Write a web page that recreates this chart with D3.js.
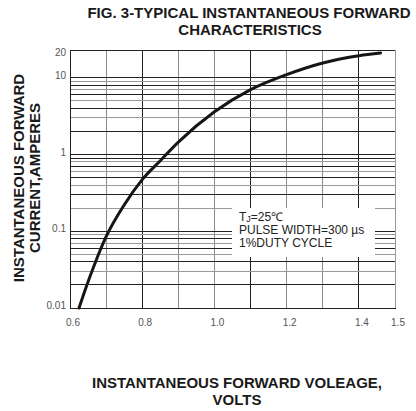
<!DOCTYPE html>
<html>
<head>
<meta charset="utf-8">
<script src="https://cdn.jsdelivr.net/npm/d3@7"></script>
<style>
  body { margin: 0; background: #fff; }
  text { font-family: "Liberation Sans", Arial, sans-serif; }
  .chart-title, .axis-title { font-weight: bold; fill: #1a1a1a; }
  .tick-label { font-size: 10px; fill: #555; }
  .note { font-size: 12px; fill: #222; }
</style>
</head>
<body>
<script>
// Data
const voltage = [0.625, 0.65, 0.665, 0.7, 0.75, 0.8, 0.85, 0.9, 1.0, 1.1, 1.2, 1.3, 1.4, 1.46];
const current = [0.01, 0.022, 0.034, 0.085, 0.22, 0.47, 0.83, 1.45, 3.6, 7.0, 11.0, 15.6, 19.4, 21];

const xTicks = [0.6, 0.8, 1.0, 1.2, 1.4, 1.5];
const xGrid = [0.6, 0.7, 0.8, 0.9, 1.0, 1.1, 1.2, 1.3, 1.4, 1.5];
const yTicks = [0.01, 0.1, 1, 10, 20];
const yTickLabels = ["0.01", "0.1", "1", "10", "20"];
const minorSteps = [2, 3, 4, 5, 6, 7, 8, 9];
const decades = [0.01, 0.1, 1];

const noteLines = ["PULSE WIDTH=300 \u00b5s", "1%DUTY CYCLE"];

// Setup: dimensions
const svgWidth = 416, svgHeight = 411;
const plot = { left: 70, right: 395, top: 50, bottom: 308 };

const svg = d3.select("body").append("svg")
  .attr("width", svgWidth)
  .attr("height", svgHeight);

// Scales
const xScale = d3.scaleLinear().domain([0.6, 1.5]).range([plot.left, plot.right]);
const yScale = d3.scaleLog().domain([0.01, 23]).range([plot.bottom, plot.top]);

// Grid lines
const grid = svg.append("g").attr("shape-rendering", "crispEdges");

grid.selectAll(".vgrid")
  .data(xGrid.slice(1, -1))
  .join("line")
  .attr("x1", d => xScale(d)).attr("x2", d => xScale(d))
  .attr("y1", plot.top).attr("y2", plot.bottom)
  .attr("stroke", (d, i) => i % 3 === 1 ? "#222" : "#8a8a8a")
  .attr("stroke-width", 1);

const hLines = [];
decades.forEach(base => {
  hLines.push({ v: base, major: true });
  minorSteps.forEach(m => hLines.push({ v: base * m, major: false }));
});
hLines.push({ v: 10, major: true });

grid.selectAll(".hgrid")
  .data(hLines.filter(d => d.v > 0.01))
  .join("line")
  .attr("x1", plot.left).attr("x2", plot.right)
  .attr("y1", d => yScale(d.v)).attr("y2", d => yScale(d.v))
  .attr("stroke", (d, i) => d.major ? "#222" : (i % 2 ? "#999" : "#222"))
  .attr("stroke-width", 1);

// Frame
grid.append("rect")
  .attr("x", plot.left).attr("y", plot.top)
  .attr("width", plot.right - plot.left)
  .attr("height", plot.bottom - plot.top)
  .attr("fill", "none")
  .attr("stroke", "#222");
grid.append("line")
  .attr("x1", plot.right).attr("x2", plot.right)
  .attr("y1", plot.top).attr("y2", plot.bottom)
  .attr("stroke", "#999");

// Note box (white patch over the grid)
const box = { x: 232, y: 208, w: 143, h: 49 };
svg.append("rect")
  .attr("x", box.x).attr("y", box.y)
  .attr("width", box.w).attr("height", box.h)
  .attr("fill", "#fff");

const note = svg.append("text").attr("class", "note")
  .attr("x", box.x + 7).attr("y", box.y + 13);
note.append("tspan").text("T");
note.append("tspan").attr("font-size", "9px").attr("dy", 1).text("J");
note.append("tspan").attr("dy", -1).text("=25\u2103");

svg.selectAll(".note-line")
  .data(noteLines)
  .join("text")
  .attr("class", "note")
  .attr("x", box.x + 7)
  .attr("y", (d, i) => box.y + 26 + i * 13)
  .text(d => d);

// Curve
const line = d3.line()
  .x(d => xScale(d[0]))
  .y(d => yScale(d[1]))
  .curve(d3.curveMonotoneX);

svg.append("path")
  .datum(voltage.map((v, i) => [v, current[i]]))
  .attr("fill", "none")
  .attr("stroke", "#161616")
  .attr("stroke-width", 3)
  .attr("stroke-linecap", "round")
  .attr("d", line);

// Tick labels
svg.selectAll(".xlab")
  .data(xTicks)
  .join("text")
  .attr("class", "tick-label")
  .attr("x", d => xScale(d) + 3)
  .attr("y", plot.bottom + 18)
  .attr("text-anchor", "middle")
  .text(d3.format(".1f"));

svg.selectAll(".ylab")
  .data(yTicks)
  .join("text")
  .attr("class", "tick-label")
  .attr("x", plot.left - 4)
  .attr("y", d => yScale(d) + 1)
  .attr("text-anchor", "end")
  .text((d, i) => yTickLabels[i]);

// Titles
svg.append("text").attr("class", "chart-title")
  .attr("x", 249).attr("y", 18)
  .attr("text-anchor", "middle").attr("font-size", "15px")
  .text("FIG. 3-TYPICAL INSTANTANEOUS FORWARD");
svg.append("text").attr("class", "chart-title")
  .attr("x", 250).attr("y", 35)
  .attr("text-anchor", "middle").attr("font-size", "15px")
  .text("CHARACTERISTICS");

svg.append("text").attr("class", "axis-title")
  .attr("x", 237).attr("y", 388)
  .attr("text-anchor", "middle").attr("font-size", "15px")
  .text("INSTANTANEOUS FORWARD VOLEAGE,");
svg.append("text").attr("class", "axis-title")
  .attr("x", 237).attr("y", 405)
  .attr("text-anchor", "middle").attr("font-size", "15px")
  .text("VOLTS");

const yTitle = svg.append("g")
  .attr("transform", "translate(0,178) rotate(-90)");
yTitle.append("text").attr("class", "axis-title")
  .attr("x", 0).attr("y", 24)
  .attr("text-anchor", "middle").attr("font-size", "15px")
  .text("INSTANTANEOUS FORWARD");
yTitle.append("text").attr("class", "axis-title")
  .attr("x", 0).attr("y", 40)
  .attr("text-anchor", "middle").attr("font-size", "15px")
  .text("CURRENT,AMPERES");
</script>
</body>
</html>
